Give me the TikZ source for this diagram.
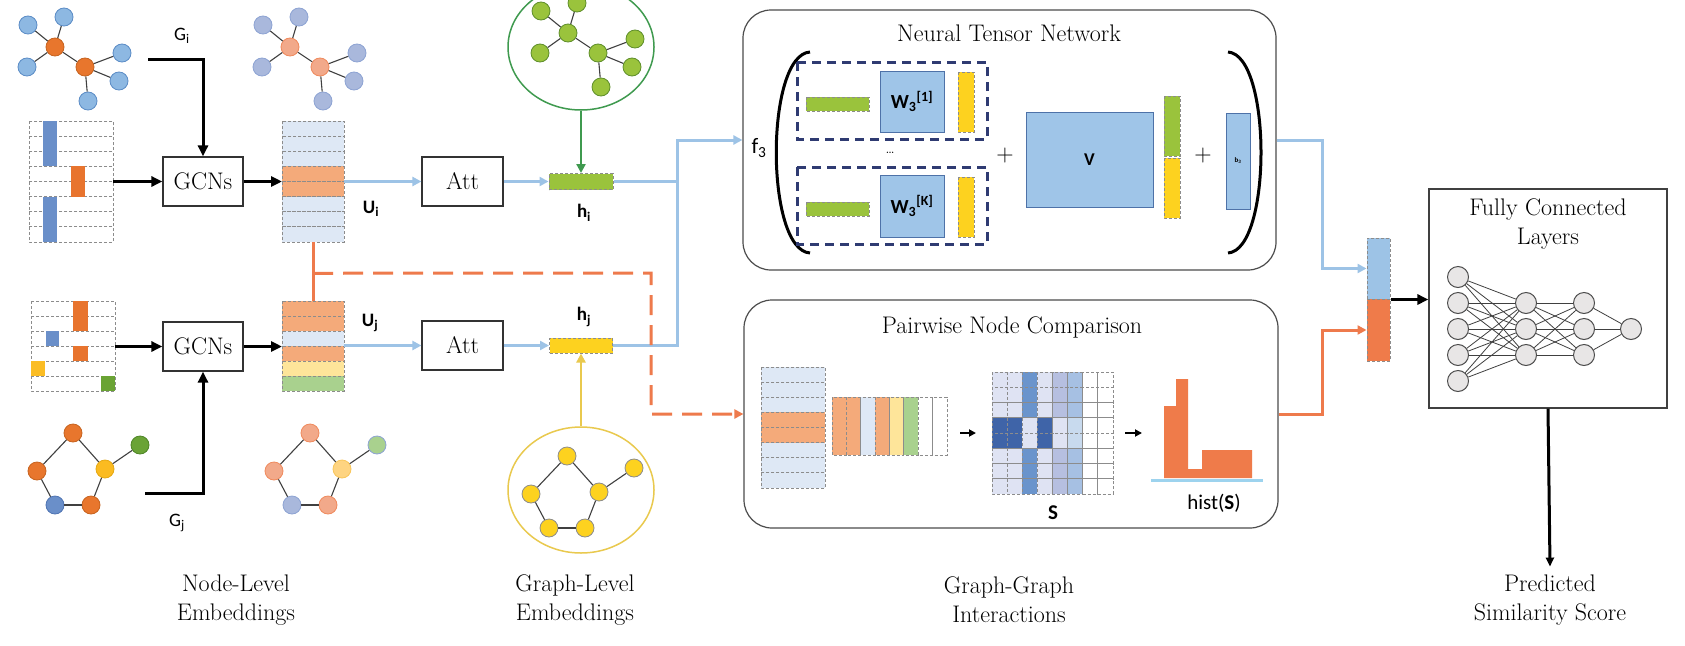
\documentclass[tikz,border=0pt]{standalone}
\usepackage{fontspec}
\newfontfamily\lblfont{Carlito}
\usetikzlibrary{arrows.meta,shapes.geometric,calc}

\definecolor{nodeblue}{HTML}{8DB8E2}
\definecolor{nodebluedk}{HTML}{5B8CC6}
\definecolor{nodeorange}{HTML}{E8762D}
\definecolor{nodeorangedk}{HTML}{C7631F}
\definecolor{fadeblue}{HTML}{A9B8DC}
\definecolor{fadebluedk}{HTML}{8DA3D3}
\definecolor{fadeorange}{HTML}{F2A98A}
\definecolor{fadeorangedk}{HTML}{F08A5D}
\definecolor{fadeyellow}{HTML}{FED481}
\definecolor{fadeyellowdk}{HTML}{F9C65A}
\definecolor{fadegreen}{HTML}{A9D18E}
\definecolor{ringblue}{HTML}{6A8FC9}
\definecolor{ringbluedk}{HTML}{4F74B3}
\definecolor{ringyellow}{HTML}{FBBB21}
\definecolor{ringyellowdk}{HTML}{E6A812}
\definecolor{ringgreen}{HTML}{6AA336}
\definecolor{ringgreendk}{HTML}{4E8527}
\definecolor{gbgreen}{HTML}{9AC33C}
\definecolor{gbgreendk}{HTML}{5E8E2A}
\definecolor{gbyellow}{HTML}{FDD21F}
\definecolor{cellblue}{HTML}{DEE8F5}
\definecolor{cellorange}{HTML}{F4AA7A}
\definecolor{cellyellow}{HTML}{FEE59A}
\definecolor{cellgreen}{HTML}{A9D18E}
\definecolor{barblue}{HTML}{6A8FC9}
\definecolor{barorange}{HTML}{E8742E}
\definecolor{baryellow}{HTML}{FBBD24}
\definecolor{bargreen}{HTML}{6AA334}
\definecolor{skyline}{HTML}{9DC3E6}
\definecolor{orangeline}{HTML}{EE7A4C}
\definecolor{ellgreen}{HTML}{3F9A4F}
\definecolor{ellyellow}{HTML}{E9C94E}
\definecolor{navy}{HTML}{2F3B72}
\definecolor{wblue}{HTML}{9FC5E8}
\definecolor{wblueborder}{HTML}{4E72A8}
\definecolor{slight}{HTML}{DFE3F3}
\definecolor{smid}{HTML}{6A94CC}
\definecolor{speri}{HTML}{B6BFE0}
\definecolor{ssky}{HTML}{A6C0E3}
\definecolor{sdark}{HTML}{3F64A8}
\definecolor{spale}{HTML}{C8DAEE}
\definecolor{historange}{HTML}{EF7B4A}
\definecolor{histbase}{HTML}{9DD3EE}
\definecolor{fcgray}{HTML}{E8E6E6}
\definecolor{edgegray}{HTML}{404040}
\definecolor{cellborder}{HTML}{8C8C8C}

\tikzset{
  gnode/.style={circle, inner sep=0pt, minimum size=18pt, line width=0.8pt},
  gedge/.style={draw=edgegray, line width=1.1pt},
  cell/.style={draw=cellborder, dash pattern=on 3pt off 2pt, line width=1pt},
  fitbox/.style={inner sep=0pt, outer sep=0pt},
  plainbox/.style={draw=black!80, line width=1.2pt, inner sep=0pt, font=\fontsize{24}{28}\selectfont},
  title/.style={inner sep=0pt, align=center, font=\fontsize{24}{29}\selectfont},
  lbl/.style={inner sep=0pt, font=\lblfont\fontsize{19}{22}\selectfont},
  lblb/.style={inner sep=0pt, font=\lblfont\bfseries\fontsize{19}{22}\selectfont},
  wbox/.style={draw=wblueborder, fill=wblue, line width=0.8pt, inner sep=0pt, font=\lblfont\bfseries\fontsize{20}{24}\selectfont},
  nnode/.style={circle, draw=black!70, fill=fcgray, minimum size=21pt, inner sep=0pt, line width=1pt},
  nnedge/.style={draw=black!75, line width=0.8pt},
  blkarrow/.style={line width=3pt, -{Triangle[length=11pt,width=10pt]}},
  smallarr/.style={line width=2.5pt, -{Triangle[length=7pt,width=7pt]}},
  bluearrow/.style={draw=skyline, line width=3pt, -{Triangle[length=9pt,width=9pt]}},
  blueline/.style={draw=skyline, line width=3pt},
  orangearrow/.style={draw=orangeline, line width=3pt, -{Triangle[length=9pt,width=9pt]}},
  orangedash/.style={draw=orangeline, line width=3pt, dash pattern=on 20pt off 10pt, -{Triangle[length=9pt,width=9pt]}},
}

% tree-shaped graph: prefix, position of first hub, hub style, leaf style
\newcommand{\treegraph}[4]{%
  \begin{scope}[shift={#2}]
    \node[gnode,#3] (#1h1) at (0,0) {};
    \node[gnode,#3] (#1h2) at (30,20) {};
    \node[gnode,#4] (#1a) at (-27,-22) {};
    \node[gnode,#4] (#1b) at (9,-30) {};
    \node[gnode,#4] (#1c) at (-28,20) {};
    \node[gnode,#4] (#1d) at (67,6) {};
    \node[gnode,#4] (#1e) at (64,34) {};
    \node[gnode,#4] (#1f) at (33,54) {};
    \foreach \n in {a,b,c,h2} \draw[gedge] (#1h1) -- (#1\n);
    \foreach \n in {d,e,f} \draw[gedge] (#1h2) -- (#1\n);
  \end{scope}}

% ring-shaped graph: prefix, position of top node, styles of orange, yellow, green, blue nodes
\newcommand{\ringgraph}[6]{%
  \begin{scope}[shift={#2}]
    \node[gnode,#3] (#1t) at (0,0) {};
    \node[gnode,#3] (#1l) at (-36,38) {};
    \node[gnode,#4] (#1r) at (32,36) {};
    \node[gnode,#5] (#1x) at (67,12) {};
    \node[gnode,#6] (#1bl) at (-18,72) {};
    \node[gnode,#3] (#1br) at (18,72) {};
    \draw[gedge] (#1t) -- (#1l);
    \draw[gedge] (#1t) -- (#1r);
    \draw[gedge] (#1l) -- (#1bl);
    \draw[gedge] (#1bl) -- (#1br);
    \draw[gedge] (#1br) -- (#1r);
    \draw[gedge] (#1r) -- (#1x);
  \end{scope}}

\begin{document}
\begin{tikzpicture}[x=1pt, y=-1pt]
  \useasboundingbox (0,0) rectangle (1685,645);
  \fill[white] (0,0) rectangle (1685,645);

  % input graphs and their embeddings
  \treegraph{gi}{(55,47)}{fill=nodeorange, draw=nodeorangedk}{fill=nodeblue, draw=nodebluedk}
  \treegraph{ui}{(290,47)}{fill=fadeorange, draw=fadeorangedk}{fill=fadeblue, draw=fadebluedk}
  \ringgraph{gj}{(73,433)}{fill=nodeorange, draw=nodeorangedk}{fill=ringyellow, draw=ringyellowdk}{fill=ringgreen, draw=ringgreendk}{fill=ringblue, draw=ringbluedk}
  \ringgraph{uj}{(310,433)}{fill=fadeorange, draw=fadeorangedk}{fill=fadeyellow, draw=fadeyellowdk}{fill=fadegreen, draw=fadebluedk}{fill=fadeblue, draw=fadebluedk}

  \node[lbl] (gilbl) at (182,36) {G\textsubscript{i}};
  \node[lbl] (gjlbl) at (177,523) {G\textsubscript{j}};

  % node features of G_i
  \foreach \row in {0,...,7} \draw[cell] (29,{121+15.125*\row}) rectangle ++(84,15.125);
  \fill[barblue] (43,121) rectangle (57,166.4);
  \fill[barblue] (43,196.6) rectangle (57,242);
  \fill[barorange] (71,166.4) rectangle (85,196.6);
  \node[fitbox, minimum width=84pt, minimum height=121pt] (Xi) at (71,181.5) {};

  % node features of G_j
  \foreach \row in {0,...,5} \draw[cell] (31,{301+15*\row}) rectangle ++(84,15);
  \fill[barorange] (73,301) rectangle (88,331);
  \fill[barblue] (46,331) rectangle (59,346);
  \fill[barorange] (73,346) rectangle (88,361);
  \fill[baryellow] (31,361) rectangle (45,376);
  \fill[bargreen] (101,376) rectangle (115,391);
  \node[fitbox, minimum width=84pt, minimum height=90pt] (Xj) at (73,346) {};

  % node-level embeddings
  \foreach \row/\col in {0/cellblue,1/cellblue,2/cellblue,3/cellorange,4/cellorange,5/cellblue,6/cellblue,7/cellblue}
    \draw[cell, fill=\col] (282,{121+15.125*\row}) rectangle ++(62,15.125);
  \node[fitbox, minimum width=62pt, minimum height=121pt] (Ui) at (313,181.5) {};
  \foreach \row/\col in {0/cellorange,1/cellorange,2/cellblue,3/cellorange,4/cellyellow,5/cellgreen}
    \draw[cell, fill=\col] (282,{301+15*\row}) rectangle ++(62,15);
  \node[fitbox, minimum width=62pt, minimum height=90pt] (Uj) at (313,346) {};
  \node[lblb] (uilbl) at (371,209) {U\textsubscript{i}};
  \node[lblb] (ujlbl) at (370,323) {U\textsubscript{j}};

  \node[plainbox, minimum width=80pt, minimum height=49pt] (gcni) at (203,181.5) {GCNs};
  \node[plainbox, minimum width=80pt, minimum height=49pt] (gcnj) at (203,346.5) {GCNs};
  \node[plainbox, minimum width=81pt, minimum height=49pt] (atti) at (462.5,181.5) {Att};
  \node[plainbox, minimum width=81pt, minimum height=49pt] (attj) at (462.5,345.5) {Att};

  % graph-level embeddings
  \node[ellipse, draw=ellgreen, line width=1.5pt, minimum width=146pt, minimum height=126pt] (gell) at (581,47) {};
  \treegraph{hg}{(568,33)}{fill=gbgreen, draw=gbgreendk}{fill=gbgreen, draw=gbgreendk}
  \node[ellipse, draw=ellyellow, line width=1.5pt, minimum width=146pt, minimum height=126pt] (yell) at (581,490) {};
  \ringgraph{hy}{(567,456)}{fill=gbyellow, draw=black!45}{fill=gbyellow, draw=black!45}{fill=gbyellow, draw=black!45}{fill=gbyellow, draw=black!45}
  \node[cell, fill=gbgreen, minimum width=64pt, minimum height=16pt, inner sep=0pt] (hi) at (581,181.5) {};
  \node[cell, fill=gbyellow, minimum width=63pt, minimum height=15pt, inner sep=0pt] (hj) at (581,345.5) {};
  \node[lblb] (hilbl) at (584,213) {h\textsubscript{i}};
  \node[lblb] (hjlbl) at (584,317) {h\textsubscript{j}};

  % Neural Tensor Network
  \node[draw=black!70, line width=1.2pt, rounded corners=28pt, minimum width=533pt, minimum height=260pt] (NTN) at (1009.5,140) {};
  \node[title] (ntnt) at (1009,33) {Neural Tensor Network};
  \node[lbl, font=\lblfont\fontsize{22}{26}\selectfont] (f3) at (759,148) {f\textsubscript{3}};
  \draw[line width=3pt] (810,52) .. controls (765,55) and (765,250) .. (810,253);
  \draw[line width=3pt] (1228,52) .. controls (1272,55) and (1272,250) .. (1228,253);
  \draw[navy, line width=3pt, dash pattern=on 9pt off 6pt] (797,62) rectangle (987,139);
  \draw[navy, line width=3pt, dash pattern=on 9pt off 6pt] (797,167) rectangle (987,244);
  \draw[cell, fill=gbgreen] (806,97) rectangle (869,111);
  \draw[cell, fill=gbgreen] (806,202) rectangle (869,216);
  \draw[cell, fill=gbyellow] (958,72) rectangle (974,132);
  \draw[cell, fill=gbyellow] (958,177) rectangle (974,237);
  \node[wbox, minimum width=64pt, minimum height=61pt] (w1) at (912,101.5) {W\textsubscript{3}\textsuperscript{[1]}};
  \node[wbox, minimum width=64pt, minimum height=62pt] (wk) at (912,206) {W\textsubscript{3}\textsuperscript{[K]}};
  \node[inner sep=0pt, font=\fontsize{14}{16}\selectfont] (dots) at (890,153) {\dots};
  \node[title] (plus1) at (1005,156) {+};
  \node[wbox, minimum width=127pt, minimum height=95pt, font=\lblfont\bfseries\fontsize{18}{22}\selectfont] (vmat) at (1089.5,159.5) {V};
  \draw[cell, fill=gbgreen] (1164,96) rectangle (1180,156);
  \draw[cell, fill=gbyellow] (1164,158) rectangle (1180,218);
  \node[title] (plus2) at (1203,156) {+};
  \node[wbox, minimum width=24pt, minimum height=96pt, font=\lblfont\bfseries\fontsize{7}{8}\selectfont] (bvec) at (1238,161) {b\textsubscript{3}};

  % Pairwise Node Comparison
  \node[draw=black!70, line width=1.2pt, rounded corners=28pt, minimum width=534pt, minimum height=228pt] (PNC) at (1011,414) {};
  \node[title] (pnct) at (1012,327) {Pairwise Node Comparison};
  \foreach \row/\col in {0/cellblue,1/cellblue,2/cellblue,3/cellorange,4/cellorange,5/cellblue,6/cellblue,7/cellblue}
    \draw[cell, fill=\col] (761,{367+15.125*\row}) rectangle ++(64,15.125);
  \foreach \k/\col in {0/cellorange,1/cellorange,2/cellblue,3/cellorange,4/cellyellow,5/cellgreen,6/white,7/white}
    \draw[cell, fill=\col] ({832+14.375*\k},397) rectangle ++(14.375,58);
  \node[fitbox, minimum width=115pt, minimum height=58pt] (PUj) at (889.5,426) {};
  \foreach \k/\cola/\colb in {0/slight/sdark,1/slight/sdark,2/smid/slight,3/slight/sdark,4/speri/slight,5/ssky/spale,6/white/white,7/white/white} {
    \foreach \row in {0,1,2,5,6,7}
      \draw[cell, fill=\cola] ({992+15.125*\k},{372+15.25*\row}) rectangle ++(15.125,15.25);
    \foreach \row in {3,4}
      \draw[cell, fill=\colb] ({992+15.125*\k},{372+15.25*\row}) rectangle ++(15.125,15.25);
  }
  \node[fitbox, minimum width=121pt, minimum height=122pt] (Smat) at (1052.5,433) {};
  \fill[historange] (1164,478) -- (1164,406) -- (1176,406) -- (1176,379) -- (1188,379) -- (1188,469)
    -- (1202,469) -- (1202,450) -- (1252,450) -- (1252,478) -- cycle;
  \draw[histbase, line width=3pt] (1151,480) -- (1263,480);
  \node[fitbox, minimum width=112pt, minimum height=101pt] (hist) at (1207,429.5) {};
  \node[lblb, font=\lblfont\bfseries\fontsize{21}{24}\selectfont] (slbl) at (1053,513) {S};
  \node[lbl, font=\lblfont\fontsize{21}{24}\selectfont] (histlbl) at (1214,503) {hist(\textbf{S})};
  \draw[smallarr] ([xshift=13pt]PUj.east |- Smat.west) -- ([xshift=-16pt]Smat.west);
  \draw[smallarr] ([xshift=12pt]Smat.east) -- ([xshift=-9pt]Smat.east -| hist.west);

  % concatenation and fully connected layers
  \node[cell, fill=skyline, minimum width=23pt, minimum height=61pt, inner sep=0pt] (catb) at (1378.5,268.5) {};
  \node[cell, fill=historange, minimum width=23pt, minimum height=62pt, inner sep=0pt] (cato) at (1378.5,330) {};
  \node[draw=black!75, line width=1.2pt, minimum width=238pt, minimum height=219pt] (FC) at (1548,298.5) {};
  \node[title] (fct) at (1548,224) {Fully Connected\\Layers};
  \foreach \y [count=\i] in {277,303,329,355,381} \node[nnode] (na\i) at (1458,\y) {};
  \foreach \y [count=\i] in {303,329,355} \node[nnode] (nb\i) at (1526,\y) {};
  \foreach \y [count=\i] in {303,329,355} \node[nnode] (nc\i) at (1584,\y) {};
  \node[nnode] (nd1) at (1631,329) {};
  \foreach \i in {1,...,5} \foreach \j in {1,2,3} \draw[nnedge] (na\i) -- (nb\j);
  \foreach \i in {1,2,3} \foreach \j in {1,2,3} \draw[nnedge] (nb\i) -- (nc\j);
  \foreach \i in {1,2,3} \draw[nnedge] (nc\i) -- (nd1);

  % bottom captions
  \node[title] (cap1) at (236,600) {Node-Level\\Embeddings};
  \node[title] (cap2) at (575,600) {Graph-Level\\Embeddings};
  \node[title] (cap3) at (1009,600) {Graph-Graph\\Interactions};
  \node[title] (pred) at (1550,600) {Predicted\\Similarity Score};

  % connectors
  \coordinate (gisrc) at (148,59);
  \coordinate (gjsrc) at (145,493);
  \draw[blkarrow] (gisrc) -| (gcni);
  \draw[blkarrow] (gjsrc) -| (gcnj);
  \draw[blkarrow] (Xi) -- (gcni);
  \draw[blkarrow] (Xj.east |- gcnj) -- (gcnj);
  \draw[blkarrow] (gcni) -- (Ui);
  \draw[blkarrow] (gcnj) -- (Uj.west |- gcnj);
  \draw[bluearrow] (Ui) -- (atti);
  \draw[bluearrow] (Uj.east |- attj) -- (attj);
  \draw[bluearrow] (atti) -- (hi);
  \draw[bluearrow] (attj) -- (hj);
  \draw[draw=ellgreen, line width=2.5pt, -{Triangle[length=9pt,width=9pt]}] (gell.south) -- (hi.north);
  \draw[draw=ellyellow, line width=2.5pt, -{Triangle[length=9pt,width=9pt]}] (yell.north) -- (hj.south);
  \coordinate (hsplit) at (677,140);
  \draw[blueline] (hj) -| (hsplit);
  \draw[bluearrow] (hi) -| (hsplit) -- (hsplit -| NTN.west);
  \draw[draw=orangeline, line width=3pt] (Ui.south) -- (Uj.north);
  \coordinate (obranch) at ($(Ui.south)!0.53!(Uj.north)$);
  \coordinate (ocorner) at (651,273);
  \draw[orangedash] (obranch) -- (ocorner) |- (PNC.west);
  \draw[bluearrow] (NTN.east) -- ++(46,0) |- (catb.west);
  \draw[orangearrow] (PNC.east) -- ++(44,0) |- (cato.west);
  \draw[blkarrow] (catb.south east) -- (catb.south east -| FC.west);
  \draw[line width=3pt, -{Triangle[length=9pt,width=8pt]}] (FC.south) -- ([yshift=8pt]pred.north);
\end{tikzpicture}
\end{document}
